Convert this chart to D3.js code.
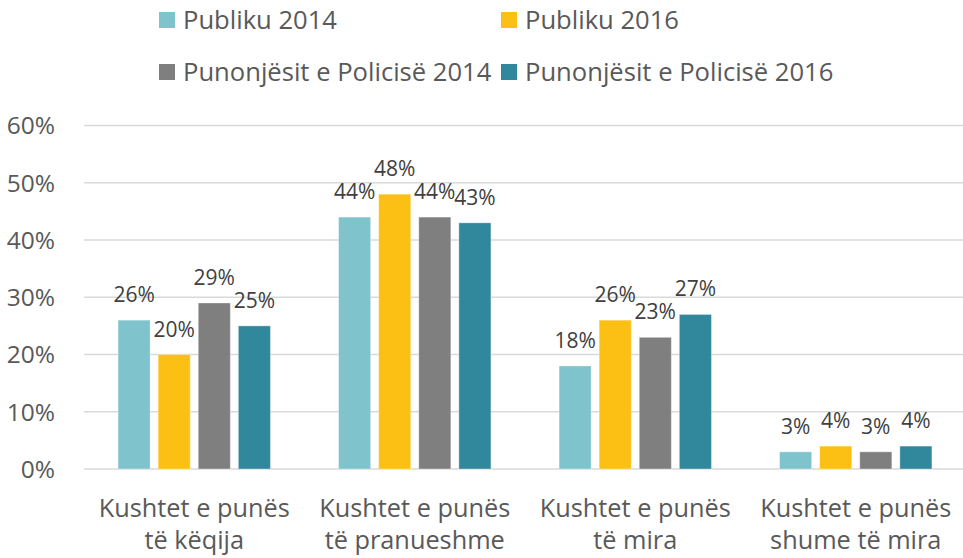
<!DOCTYPE html>
<html>
<head>
<meta charset="utf-8">
<script src="https://cdn.jsdelivr.net/npm/d3@7"></script>
<style>
  body { margin: 0; background: #fff; }
  text { font-family: "Open Sans", "Noto Sans", sans-serif; }
</style>
</head>
<body>
<svg id="chart" width="963" height="558"></svg>
<script>
var categories = [
  ["Kushtet e punës", "të këqija"],
  ["Kushtet e punës", "të pranueshme"],
  ["Kushtet e punës", "të mira"],
  ["Kushtet e punës", "shume të mira"]
];
var seriesNames = ["Publiku 2014", "Publiku 2016", "Punonjësit e Policisë 2014", "Punonjësit e Policisë 2016"];
var seriesColors = ["#7fc3cd", "#fcbf13", "#7f7f7f", "#31879c"];
// values per series, one per category
var publiku2014 = [0.26, 0.44, 0.18, 0.03];
var publiku2016 = [0.20, 0.48, 0.26, 0.04];
var policia2014 = [0.29, 0.44, 0.23, 0.03];
var policia2016 = [0.25, 0.43, 0.27, 0.04];
var yTicks = [0, 0.1, 0.2, 0.3, 0.4, 0.5, 0.6];

var values = [publiku2014, publiku2016, policia2014, policia2016];

var svg = d3.select('#chart');
var width = 963;

var x0 = d3.scaleBand()
    .domain(d3.range(categories.length))
    .range([84, 966]);
var x1 = d3.scaleBand()
    .domain(d3.range(seriesNames.length))
    .range([0, x0.bandwidth()])
    .paddingInner(0.2)
    .paddingOuter(0.85);
var y = d3.scaleLinear()
    .domain([0, 0.6])
    .range([469, 125.5]);

var pct = d3.format('.0%');

// Gridlines
svg.append('g')
    .selectAll('line')
    .data(yTicks)
    .enter()
    .append('line')
    .attr('x1', 84)
    .attr('x2', width)
    .attr('y1', function (d) { return y(d); })
    .attr('y2', function (d) { return y(d); })
    .style('stroke', '#d9d9d9')
    .style('stroke-width', 1.5);

// Y tick labels
svg.append('g')
    .selectAll('text')
    .data(yTicks)
    .enter()
    .append('text')
    .attr('x', 55)
    .attr('y', function (d) { return y(d); })
    .attr('dy', '0.36em')
    .attr('text-anchor', 'end')
    .style('font-size', '24.5px')
    .style('fill', '#595959')
    .text(function (d) { return pct(d); });

// Bars
var groups = svg.append('g')
    .selectAll('g')
    .data(categories)
    .enter()
    .append('g')
    .attr('transform', function (d, i) { return 'translate(' + x0(i) + ',0)'; });

groups.selectAll('rect')
    .data(function (d, i) { return values.map(function (s, j) { return { s: j, v: s[i] }; }); })
    .enter()
    .append('rect')
    .attr('x', function (d) { return x1(d.s); })
    .attr('width', x1.bandwidth())
    .attr('y', function (d) { return y(d.v); })
    .attr('height', function (d) { return y(0) - y(d.v); })
    .style('fill', function (d) { return seriesColors[d.s]; })
    .style('stroke', '#fff')
    .style('stroke-opacity', 0.35)
    .style('stroke-width', 1);

// Data labels
groups.selectAll('text.lbl')
    .data(function (d, i) { return values.map(function (s, j) { return { s: j, v: s[i] }; }); })
    .enter()
    .append('text')
    .classed('lbl', true)
    .attr('x', function (d) { return x1(d.s) + x1.bandwidth() / 2; })
    .attr('y', function (d) { return y(d.v) - 18; })
    .attr('text-anchor', 'middle')
    .style('font-size', '21px')
    .style('fill', '#404040')
    .text(function (d) { return pct(d.v); });

// Category labels
groups.each(function (lines) {
    var t = d3.select(this).append('text')
        .attr('text-anchor', 'middle')
        .style('font-size', '25.3px')
        .style('fill', '#595959');
    lines.forEach(function (l, k) {
        t.append('tspan')
            .attr('x', x0.bandwidth() / 2)
            .attr('y', 517 + k * 32)
            .text(l);
    });
});

// Legend
var legendPos = [[159, 20], [501, 20], [159, 72], [501, 72]];
var legend = svg.append('g')
    .selectAll('g')
    .data(seriesNames)
    .enter()
    .append('g')
    .attr('transform', function (d, i) { return 'translate(' + legendPos[i][0] + ',' + legendPos[i][1] + ')'; });
legend.append('rect')
    .attr('x', 0)
    .attr('y', -8)
    .attr('width', 16)
    .attr('height', 16)
    .style('fill', function (d, i) { return seriesColors[i]; });
legend.append('text')
    .attr('x', 24)
    .attr('y', 0)
    .attr('dy', '0.35em')
    .style('font-size', '25.6px')
    .style('fill', '#595959')
    .text(function (d) { return d; });
</script>
</body>
</html>
